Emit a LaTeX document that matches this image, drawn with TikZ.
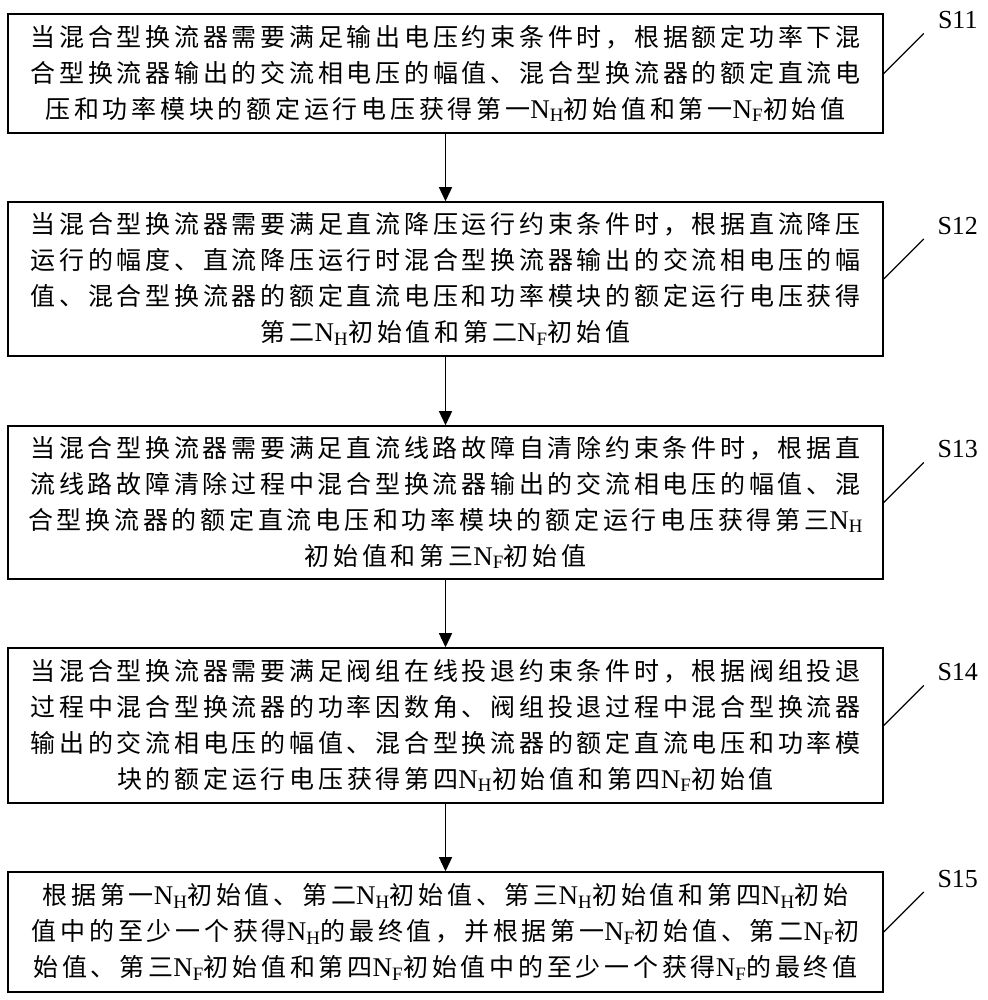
\documentclass[tikz,border=0pt]{standalone}
\usepackage{fontspec}
\setmainfont{Liberation Serif}
\newfontfamily\cjk[LetterSpace=15]{Noto Sans CJK SC}
\usetikzlibrary{arrows.meta}
\newcommand\subNH{{\rmfamily\fontsize{27}{36}\selectfont N\textsubscript{H}}}
\newcommand\subNF{{\rmfamily\fontsize{27}{36}\selectfont N\textsubscript{F}}}
\begin{document}
\begin{tikzpicture}[x=1pt,y=1pt,
  stepbox/.style={draw, line width=1.5pt, minimum width=875pt, align=center, inner sep=0pt,
    font=\cjk\fontsize{25}{36}\selectfont},
  flow/.style={line width=1.3pt, -{Triangle[length=14pt,width=13pt]}},
  tag/.style={font=\fontsize{26}{30}\selectfont, inner sep=0pt},
  lead/.style={line width=1.3pt}]
\useasboundingbox (0,0) rectangle (987,1000);

\node[stepbox, minimum height=119pt] (b1) at (445.5,926.5)
 {当混合型换流器需要满足输出电压约束条件时，根据额定功率下混\\
  合型换流器输出的交流相电压的幅值、混合型换流器的额定直流电\\
  压和功率模块的额定运行电压获得第一\subNH 初始值和第一\subNF 初始值};

\node[stepbox, minimum height=154pt] (b2) at (445.5,721)
 {当混合型换流器需要满足直流降压运行约束条件时，根据直流降压\\
  运行的幅度、直流降压运行时混合型换流器输出的交流相电压的幅\\
  值、混合型换流器的额定直流电压和功率模块的额定运行电压获得\\
  第二\subNH 初始值和第二\subNF 初始值};

\node[stepbox, minimum height=153pt] (b3) at (445.5,497.5)
 {当混合型换流器需要满足直流线路故障自清除约束条件时，根据直\\
  流线路故障清除过程中混合型换流器输出的交流相电压的幅值、混\\
  合型换流器的额定直流电压和功率模块的额定运行电压获得第三\subNH\\
  初始值和第三\subNF 初始值};

\node[stepbox, minimum height=155pt] (b4) at (445.5,274.5)
 {当混合型换流器需要满足阀组在线投退约束条件时，根据阀组投退\\
  过程中混合型换流器的功率因数角、阀组投退过程中混合型换流器\\
  输出的交流相电压的幅值、混合型换流器的额定直流电压和功率模\\
  块的额定运行电压获得第四\subNH 初始值和第四\subNF 初始值};

\node[stepbox, minimum height=120pt] (b5) at (445.5,68)
 {根据第一\subNH 初始值、第二\subNH 初始值、第三\subNH 初始值和第四\subNH 初始\\
  值中的至少一个获得\subNH 的最终值，并根据第一\subNF 初始值、第二\subNF 初\\
  始值、第三\subNF 初始值和第四\subNF 初始值中的至少一个获得\subNF 的最终值};

\draw[flow] (b1) -- (b2);
\draw[flow] (b2) -- (b3);
\draw[flow] (b3) -- (b4);
\draw[flow] (b4) -- (b5);

\foreach \b/\t in {b1/S11, b2/S12, b3/S13, b4/S14, b5/S15} {
  \coordinate (\b e) at ([xshift=40pt,yshift=40pt]\b.east);
  \node[tag] (\b t) at ([xshift=74pt,yshift=53pt]\b.east) {\t};
  \draw[lead] (\b.east) -- (\b e);
}
\end{tikzpicture}
\end{document}
